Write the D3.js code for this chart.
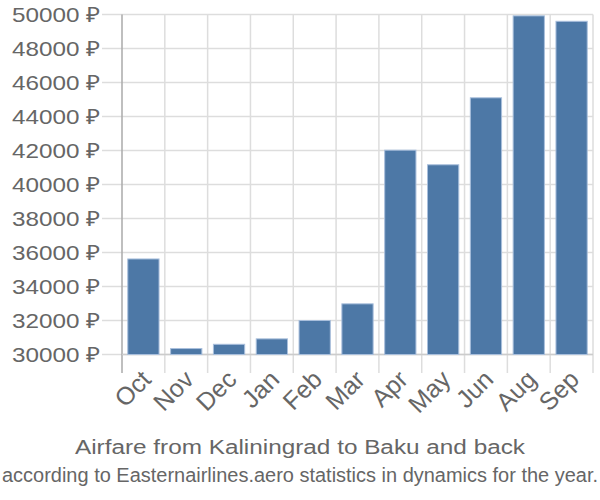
<!DOCTYPE html>
<html><head><meta charset="utf-8">
<script src="https://cdn.jsdelivr.net/npm/d3@7"></script>
<style>body{margin:0;background:#fff}svg{display:block}</style>
</head><body>
<svg id="c" width="600" height="500"></svg>
<script>
const months = ["Oct","Nov","Dec","Jan","Feb","Mar","Apr","May","Jun","Aug","Sep"];
const prices = [35620, 30350, 30600, 30920, 32000, 32980, 42020, 41160, 45100, 49920, 49600];
const yTicks = [30000,32000,34000,36000,38000,40000,42000,44000,46000,48000,50000];
const title = "Airfare from Kaliningrad to Baku and back";
const subtitle = "according to Easternairlines.aero statistics in dynamics for the year.";

const svg = d3.select("#c");
const L = 122, R = 593, T = 14.5, B = 354.5;
const x = d3.scaleBand().domain(months).range([L, R]).paddingInner(0.27).paddingOuter(0.135);
const xb = d3.scaleBand().domain(months).range([L, R]);
const y = d3.scaleLinear().domain([30000, 50000]).range([B, T]);

const font = "'Liberation Sans', Arial, sans-serif";
// horizontal gridlines + left ticks
svg.append("g").selectAll("line").data(yTicks).join("line")
  .attr("x1", 102).attr("x2", R).attr("y1", d => y(d)).attr("y2", d => y(d))
  .attr("stroke", "#ddd").attr("stroke-width", 1.5);
// vertical gridlines at band boundaries
const bounds = months.map(m => xb(m)).concat([R]);
svg.append("g").selectAll("line").data(bounds.slice(1)).join("line")
  .attr("x1", d => d).attr("x2", d => d).attr("y1", T).attr("y2", 373)
  .attr("stroke", "#ddd").attr("stroke-width", 1.5);
// left axis line
svg.append("line").attr("x1", L).attr("x2", L).attr("y1", T).attr("y2", 373)
  .attr("stroke", "#aaa").attr("stroke-width", 1.5);
// bottom axis line
svg.append("line").attr("x1", L).attr("x2", R).attr("y1", B).attr("y2", B)
  .attr("stroke", "#ccc").attr("stroke-width", 1.5);

// bars
svg.append("g").selectAll("rect").data(prices).join("rect")
  .attr("x", (d, i) => x(months[i])).attr("width", x.bandwidth())
  .attr("y", d => y(d)).attr("height", d => B - y(d))
  .attr("fill", "#4d78a6").attr("stroke", "#a9bfdc").attr("stroke-width", 1);

// y labels
svg.append("g").selectAll("text").data(yTicks).join("text")
  .attr("x", 100).attr("y", d => y(d) + 7.5)
  .attr("text-anchor", "end").attr("font-family", font).attr("font-size", 21)
  .attr("fill", "#666").attr("textLength", 88).attr("lengthAdjust", "spacingAndGlyphs")
  .text(d => d + " ₽");

// x labels
svg.append("g").selectAll("text").data(months).join("text")
  .attr("transform", d => `translate(${x(d) + x.bandwidth()/2 + 9},${381}) rotate(-45)`)
  .attr("text-anchor", "end").attr("font-family", font).attr("font-size", 25)
  .attr("fill", "#666").text(d => d);

svg.append("text").attr("x", 300).attr("y", 454).attr("text-anchor", "middle")
  .attr("font-family", font).attr("font-size", 20).attr("fill", "#666")
  .attr("textLength", 450).attr("lengthAdjust", "spacingAndGlyphs").text(title);
svg.append("text").attr("x", 300).attr("y", 482).attr("text-anchor", "middle")
  .attr("font-family", font).attr("font-size", 20).attr("fill", "#666")
  .attr("textLength", 596).attr("lengthAdjust", "spacingAndGlyphs").text(subtitle);
</script>
</body></html>
